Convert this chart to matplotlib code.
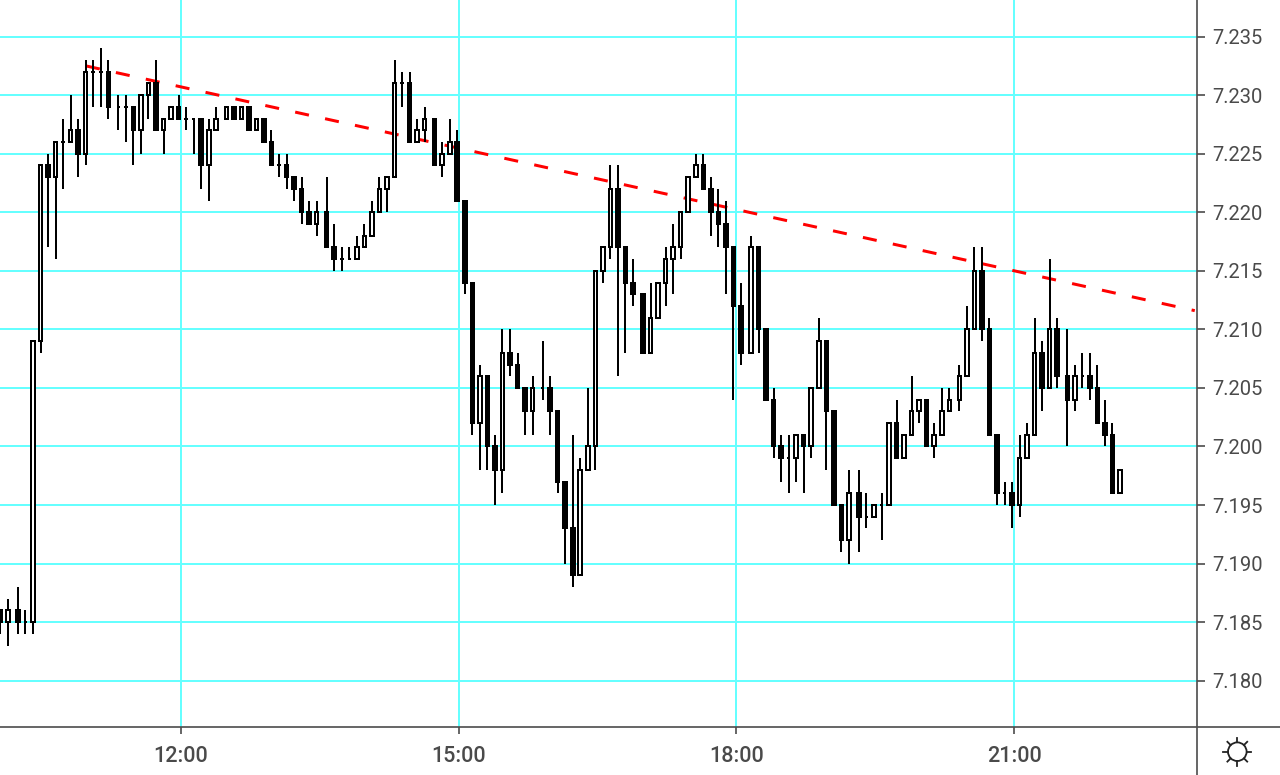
import math
import numpy as np
import matplotlib
matplotlib.use("Agg")
import matplotlib.pyplot as plt

plt.rcParams['font.family'] = ['Roboto', 'DejaVu Sans']

# Prix en milliemes au dessus de 7 (186 -> 7.186), bougies de 5 minutes
opens = [186,185,186,185,185,209,224,223,226,226,227,225,232,232,232,229,229,229,227,230,
         231,227,228,229,228,228,228,224,227,228,229,228,229,227,228,226,224,224,223,222,
         220,219,220,217,216,216,216,217,218,220,222,223,231,231,226,227,228,224,225,226,
         221,214,202,206,200,198,208,207,205,203,205,205,203,197,193,189,198,200,215,217,
         222,217,214,213,208,211,214,216,217,220,223,224,222,220,219,217,212,208,217,210,
         204,200,199,199,201,200,205,209,203,195,192,196,194,194,195,195,202,199,201,203,
         204,200,201,203,204,206,210,215,210,201,196,196,195,199,201,208,205,210,206,204,
         206,206,205,202,201,196]
highs = [186,187,188,186,209,224,225,226,228,230,228,233,233,234,233,230,230,229,230,231,
         233,228,229,230,229,228,228,228,229,229,229,229,229,228,228,227,225,225,223,223,
         221,221,223,219,217,217,218,219,221,223,223,233,232,232,228,229,228,226,228,227,
         221,214,207,206,201,210,210,208,205,206,209,206,203,197,201,199,205,215,217,224,
         224,217,216,213,214,214,217,219,220,223,225,225,223,222,221,217,214,218,217,210,
         205,201,201,201,201,205,211,209,203,195,198,198,196,195,196,202,204,201,206,204,
         204,202,205,205,207,212,217,217,211,201,197,197,201,202,211,209,216,211,210,207,
         208,208,207,204,202,198]
lows = [184,183,184,184,184,208,217,216,222,226,223,224,229,229,228,227,226,224,225,228,
        227,225,228,228,227,225,222,221,227,228,228,228,227,227,226,224,223,222,221,219,
        219,218,217,215,215,216,216,217,218,220,220,223,229,226,226,226,224,223,225,221,
        213,201,198,198,195,196,206,205,201,201,204,201,196,190,188,189,198,198,214,216,
        206,208,212,208,208,211,212,213,216,220,223,222,218,217,213,204,207,208,208,204,
        199,197,196,197,196,199,205,198,195,191,190,191,193,194,192,195,199,199,201,202,
        200,199,201,203,203,206,210,209,201,195,195,193,194,199,201,203,205,205,200,203,
        205,204,202,200,196,196]
closes = [185,186,185,185,209,224,223,226,226,227,225,232,232,232,229,229,229,227,230,231,
          227,228,229,228,228,228,224,227,228,229,228,229,227,228,226,224,224,223,222,220,
          219,220,217,216,216,216,217,218,220,222,223,231,231,226,227,228,224,225,226,221,
          214,202,206,200,198,208,207,205,203,205,205,203,197,193,189,198,200,215,217,222,
          217,214,213,208,211,214,216,217,220,223,224,222,220,219,217,212,208,217,210,204,
          200,199,199,201,200,205,209,203,195,192,196,194,194,195,195,202,199,201,203,204,
          200,201,203,204,206,210,215,210,201,196,196,195,199,201,208,205,210,206,204,206,
          206,205,202,201,196,198]

heures = ['12:00', '15:00', '18:00', '21:00']
indices_heures = [23, 59, 95, 131]
niveaux = [7.180, 7.185, 7.190, 7.195, 7.200, 7.205, 7.210, 7.215, 7.220, 7.225, 7.230, 7.235]

# Ligne de tendance (indice de bougie, prix)
tendance_x = [11.1, 154.8]
tendance_y = [7.2325, 7.2116]

CYAN = '#66ffff'
GRIS = '#505050'
PX = 72 / 100  # 1 pixel en points

o = 7 + np.array(opens) / 1000
h = 7 + np.array(highs) / 1000
l = 7 + np.array(lows) / 1000
c = 7 + np.array(closes) / 1000

# Le graphique d'origine cale les bougies sur ses pixels (agrandis 2.5x)
pas = 3.0735
x = np.floor(np.arange(len(o)) * pas + 0.914) / pas

fig = plt.figure(figsize=(12.8, 7.75), dpi=100)
ax = fig.add_axes([0, (775 - 726.7) / 775, 1196.7 / 1280, 726.7 / 775])
ax.set_xlim(-0.047, 155.05)
ax.set_ylim(7.17607, 7.23813)

for v in niveaux:
    ax.axhline(v, color=CYAN, lw=2 * PX, zorder=1)
for i in indices_heures:
    ax.axvline(i + 0.4, color=CYAN, lw=2 * PX, zorder=1)

ax.plot(tendance_x, tendance_y, color='#ff0000', lw=3 * PX, dashes=(4.7, 5.5),
        dash_capstyle='butt', zorder=2, clip_on=False)

ax.vlines(x, l, h, color='black', lw=2 * PX, zorder=3)
hausse = c >= o
couleurs = ['white' if u else 'black' for u in hausse]
ax.bar(x, c - o, bottom=o, width=0.46, color=couleurs, edgecolor='black',
       linewidth=2 * PX, zorder=4)

ax.set_xticks([i + 0.4 for i in indices_heures])
ax.set_xticklabels(heures, fontweight='medium')
ax.set_yticks(niveaux)
ax.set_yticklabels(['%.3f' % v for v in niveaux])
ax.yaxis.tick_right()
ax.tick_params(axis='x', length=7 * PX, width=1.7 * PX, color=GRIS, labelcolor='#4a4a4a',
               labelsize=15.5, pad=9)
ax.tick_params(axis='y', length=8 * PX, width=1.7 * PX, color=GRIS, labelcolor='#4a4a4a',
               labelsize=14.5, pad=5.5)
for s in ['top', 'left', 'right', 'bottom']:
    ax.spines[s].set_visible(False)

# Axes et icone du coin, en coordonnees pixels
over = fig.add_axes([0, 0, 1, 1])
over.set_xlim(0, 1280)
over.set_ylim(775, 0)
over.axis('off')
over.patch.set_alpha(0)
over.plot([0, 1280], [726.7, 726.7], color=GRIS, lw=1.7 * PX)
over.plot([1196.7, 1196.7], [0, 775], color=GRIS, lw=1.7 * PX)

cx, cy = 1237.3, 751.7
over.add_patch(plt.Circle((cx, cy), 9.3, fill=False, edgecolor='#222222', lw=1.8 * PX))
for k in range(8):
    a = k * math.pi / 4
    over.plot([cx + 9.5 * math.cos(a), cx + 14 * math.cos(a)],
              [cy + 9.5 * math.sin(a), cy + 14 * math.sin(a)],
              color='#222222', lw=1.8 * PX)

fig.savefig('out.png', dpi=100)
